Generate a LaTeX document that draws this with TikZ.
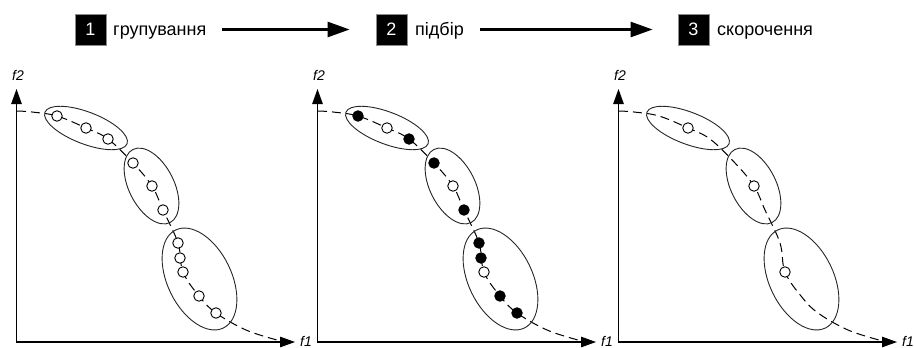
\documentclass[tikz,border=0pt]{standalone}
\usepackage{fontspec}
\setmainfont{Liberation Sans}
\usetikzlibrary{arrows.meta}
\begin{document}
\begin{tikzpicture}[x=1pt,y=-1pt,
  numbox/.style={fill=black, draw=black!45, line width=0.8pt, text=white, minimum width=31pt, minimum height=31pt, inner sep=0pt, font=\fontsize{18}{20}\selectfont},
  steptext/.style={anchor=base west, inner sep=0pt, font=\fontsize{18}{20}\selectfont},
  flow/.style={line width=2.6pt, -{Triangle[length=22pt,width=15pt]}},
  axis/.style={line width=1.1pt, {Triangle[length=15pt,width=10.5pt]}-{Triangle[length=15pt,width=10.5pt]}},
  front/.style={dash pattern=on 9pt off 5pt, line width=1pt},
  grp/.style={line width=0.9pt, draw=black!85},
  pt/.style={circle, draw, fill=white, line width=0.9pt, minimum size=10.5pt, inner sep=0pt},
  sel/.style={pt, fill=black},
  axlab/.style={font=\fontsize{14}{16}\selectfont\itshape, inner sep=0pt}
]
\useasboundingbox (0,0) rectangle (914,348);
% header
\node[numbox] (b1) at (90.5,29.5) {1};
\node[steptext] (t1) at (113,35) {групування};
\node[numbox] (b2) at (391.5,29.5) {2};
\node[steptext] (t2) at (415,35) {підбір};
\node[numbox] (b3) at (693.5,29.5) {3};
\node[steptext] (t3) at (717,35) {скорочення};
\draw[flow, shorten <=15pt, shorten >=26pt] (t1.east |- b1.center) -- (b2.west);
\draw[flow, shorten <=16pt, shorten >=25pt] (t2.east |- b2.center) -- (b3.west);
% panels
\foreach \p/\ox in {1/0,2/301,3/602}{
  \begin{scope}[xshift=\ox pt]
    \coordinate (o\p) at (16.5,342);
    \coordinate (yt\p) at (16.5,89);
    \coordinate (xt\p) at (295,342);
    \draw[axis] (yt\p) -- (o\p) -- (xt\p);
    \node[axlab] (f2\p) at (18,75) {f2};
    \node[axlab] (f1\p) at (306,341) {f1};
    \draw[front] plot[smooth, tension=0.6] coordinates {(17,111) (32,112) (57,116) (86,128) (108,139) (133,163) (152,186) (163,210) (178,243) (183,272) (199,296) (216,313) (246,330) (277,340)};
    \draw[grp, rotate around={-21:(86,128)}] (86,128) ellipse [x radius=44pt, y radius=16pt];
    \draw[grp, rotate around={-63:(151.5,186)}] (151.5,186) ellipse [x radius=41pt, y radius=22.5pt];
    \draw[grp, rotate around={-64:(199.5,279)}] (199.5,279) ellipse [x radius=54.5pt, y radius=32pt];
  \end{scope}
}
% panel 1 points
\begin{scope}
\foreach \i/\x/\y in {1/57/116,2/86/128,3/108/139,4/133/163,5/152/186,6/163/210,7/178/243,8/180/258,9/183/272,10/199/296,11/216/313}
  \node[pt] (a\i) at (\x,\y) {};
\end{scope}
% panel 2 points
\begin{scope}[xshift=301pt]
\foreach \i/\x/\y/\s in {1/57/116/sel,2/86/128/pt,3/108/139/sel,4/133/163/sel,5/152/186/pt,6/163/210/sel,7/178/243/sel,8/180/258/sel,9/183/272/pt,10/199/296/sel,11/216/313/sel}
  \node[\s] (b\i) at (\x,\y) {};
\end{scope}
% panel 3 points
\begin{scope}[xshift=602pt]
\foreach \i/\x/\y in {2/86/128,5/152/186,9/183/272}
  \node[pt] (c\i) at (\x,\y) {};
\end{scope}
\end{tikzpicture}
\end{document}
